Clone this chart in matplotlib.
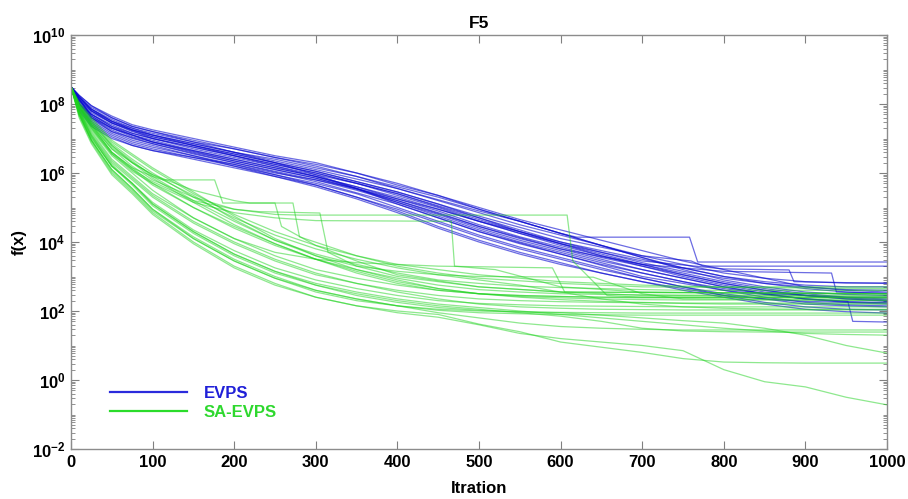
import numpy as np
import matplotlib
matplotlib.use('Agg')
import matplotlib.pyplot as plt
from matplotlib.lines import Line2D
from matplotlib.ticker import FixedLocator, LogLocator, FuncFormatter, NullFormatter

# ---- data (values stored as log10 f(x)) ----
grid_iters = [0, 10, 25, 50, 75, 100, 150, 200, 250, 300, 350, 400,
              450, 500, 550, 600, 650, 700, 750, 800, 850, 900, 950, 1000]

# EVPS runs on the shared iteration grid
evps_runs = [
    [8.5, 8.25, 7.95, 7.6, 7.35, 7.2, 6.95, 6.7, 6.45, 6.2, 5.9, 5.55, 5.2, 4.85, 4.5, 4.2, 3.9, 3.6, 3.35, 3.1, 2.95, 2.85, 2.81, 2.81],
    [8.5, 7.9, 7.45, 7.1, 6.85, 6.7, 6.45, 6.25, 6.0, 5.8, 5.55, 5.25, 4.95, 4.6, 4.3, 4.0, 3.75, 3.5, 3.25, 3.0, 2.85, 2.75, 2.7, 2.7],
    [8.5, 8.05, 7.7, 7.4, 7.15, 7.0, 6.7, 6.45, 6.2, 5.95, 5.7, 5.4, 5.05, 4.7, 4.35, 4.0, 3.7, 3.4, 3.15, 2.95, 2.8, 2.7, 2.62, 2.6],
    [8.5, 8.2, 7.9, 7.6, 7.35, 7.2, 6.9, 6.6, 6.3, 5.95, 5.55, 5.1, 4.7, 4.3, 3.95, 3.65, 3.35, 3.1, 2.85, 2.65, 2.5, 2.45, 2.4, 2.4],
    [8.5, 7.85, 7.4, 7.05, 6.8, 6.65, 6.4, 6.15, 5.9, 5.65, 5.3, 4.95, 4.55, 4.15, 3.8, 3.5, 3.2, 2.95, 2.7, 2.5, 2.35, 2.2, 2.15, 2.12],
    [8.5, 8.1, 7.8, 7.45, 7.2, 7.05, 6.8, 6.55, 6.3, 6.05, 5.75, 5.45, 5.1, 4.7, 4.3, 3.95, 3.6, 3.3, 3.0, 2.75, 2.55, 2.45, 2.38, 2.32],
    [8.5, 8.0, 7.6, 7.25, 7.0, 6.85, 6.55, 6.3, 6.05, 5.8, 5.5, 5.15, 4.8, 4.4, 4.05, 3.75, 3.45, 3.2, 2.95, 2.7, 2.5, 2.35, 2.28, 2.23],
    [8.5, 8.25, 7.95, 7.65, 7.4, 7.25, 7.0, 6.75, 6.5, 6.3, 6.0, 5.7, 5.35, 4.95, 4.6, 4.25, 3.9, 3.55, 3.25, 3.0, 2.8, 2.65, 2.55, 2.5],
    [8.5, 7.8, 7.35, 7.0, 6.8, 6.65, 6.45, 6.2, 5.95, 5.7, 5.4, 5.0, 4.6, 4.2, 3.85, 3.55, 3.25, 2.95, 2.7, 2.45, 2.25, 2.12, 2.05, 2.03],
    [8.5, 8.0, 7.65, 7.3, 7.1, 6.9, 6.65, 6.4, 6.15, 5.9, 5.6, 5.25, 4.9, 4.5, 4.15, 3.85, 3.55, 3.3, 3.05, 2.8, 2.6, 2.45, 2.35, 2.28],
    [8.5, 8.15, 7.8, 7.5, 7.25, 7.1, 6.85, 6.6, 6.4, 6.15, 5.9, 5.6, 5.3, 4.95, 4.6, 4.25, 3.9, 3.55, 3.2, 2.9, 2.7, 2.55, 2.48, 2.45],
    [8.5, 7.95, 7.55, 7.2, 6.95, 6.8, 6.5, 6.25, 5.95, 5.65, 5.3, 4.9, 4.45, 4.05, 3.7, 3.4, 3.1, 2.85, 2.6, 2.4, 2.2, 2.05, 1.98, 1.94],
    [8.5, 8.1, 7.7, 7.35, 7.15, 7.0, 6.75, 6.5, 6.25, 6.0, 5.7, 5.35, 5.0, 4.6, 4.25, 3.9, 3.6, 3.35, 3.1, 2.85, 2.65, 2.5, 2.4, 2.35],
    [8.5, 8.0, 7.6, 7.3, 7.05, 6.9, 6.6, 6.35, 6.1, 5.85, 5.55, 5.2, 4.85, 4.45, 4.1, 3.8, 3.5, 3.2, 2.95, 2.7, 2.5, 2.35, 2.25, 2.2],
    [8.5, 8.15, 7.85, 7.5, 7.25, 7.1, 6.8, 6.5, 6.2, 5.9, 5.55, 5.15, 4.75, 4.35, 4.0, 3.7, 3.4, 3.1, 2.85, 2.6, 2.4, 2.25, 2.18, 2.15],
    [8.5, 8.0, 7.7, 7.35, 7.1, 6.95, 6.65, 6.4, 6.15, 5.9, 5.6, 5.3, 4.95, 4.6, 4.25, 3.95, 3.65, 3.35, 3.05, 2.8, 2.6, 2.45, 2.35, 2.3],
    [8.5, 8.2, 7.85, 7.55, 7.3, 7.15, 6.9, 6.7, 6.45, 6.25, 6.0, 5.65, 5.35, 5.0, 4.65, 4.35, 4.05, 3.75, 3.45, 3.2, 2.95, 2.7, 2.6, 2.55],
    [8.5, 7.9, 7.5, 7.15, 6.9, 6.75, 6.5, 6.2, 5.9, 5.6, 5.25, 4.85, 4.4, 4.0, 3.65, 3.35, 3.1, 2.85, 2.65, 2.45, 2.35, 2.28, 2.25, 2.25],
]

# EVPS runs with long plateaus / sudden drops, as (iteration, log10 f) knots
evps_step_runs = [
    [(0, 8.5), (10, 8.2), (25, 7.85), (50, 7.5), (100, 7.1), (150, 6.85), (200, 6.6), (300, 6.1), (400, 5.55),
     (500, 4.9), (550, 4.6), (600, 4.25), (620, 4.14), (758, 4.14), (768, 3.42), (1000, 3.42)],
    [(0, 8.5), (10, 8.1), (25, 7.75), (50, 7.45), (100, 7.05), (150, 6.8), (200, 6.55), (300, 6.05), (400, 5.45),
     (500, 4.75), (600, 4.1), (700, 3.6), (760, 3.45), (775, 3.3), (1000, 3.3)],
    [(0, 8.5), (25, 7.8), (50, 7.45), (100, 7.0), (200, 6.5), (300, 6.0), (400, 5.4), (500, 4.65), (600, 3.95),
     (700, 3.45), (800, 3.22), (880, 3.19), (886, 2.85), (1000, 2.8)],
    [(0, 8.5), (25, 7.65), (50, 7.3), (100, 6.9), (200, 6.35), (300, 5.85), (400, 5.2), (500, 4.45), (600, 3.8),
     (700, 3.35), (800, 3.15), (932, 3.1), (938, 2.55), (1000, 2.52)],
    [(0, 8.5), (25, 7.6), (50, 7.2), (100, 6.85), (200, 6.3), (300, 5.75), (400, 5.1), (500, 4.3), (600, 3.65),
     (700, 3.0), (800, 2.6), (900, 2.35), (952, 2.28), (958, 1.7), (1000, 1.68)],
]

# SA-EVPS runs on the shared iteration grid
sa_evps_runs = [
    [8.5, 8.0, 7.55, 6.9, 6.5, 6.1, 5.4, 4.8, 4.3, 3.9, 3.6, 3.35, 3.2, 3.05, 2.95, 2.85, 2.8, 2.75, 2.72, 2.7, 2.7, 2.7, 2.7, 2.7],
    [8.5, 7.95, 7.45, 6.8, 6.35, 5.9, 5.2, 4.6, 4.05, 3.65, 3.35, 3.1, 2.9, 2.8, 2.72, 2.68, 2.65, 2.62, 2.6, 2.6, 2.6, 2.6, 2.6, 2.6],
    [8.5, 7.9, 7.35, 6.6, 6.15, 5.7, 5.0, 4.4, 3.9, 3.5, 3.2, 2.95, 2.75, 2.62, 2.55, 2.5, 2.48, 2.47, 2.46, 2.46, 2.46, 2.46, 2.46, 2.46],
    [8.5, 7.8, 7.2, 6.4, 5.9, 5.4, 4.7, 4.1, 3.6, 3.2, 2.95, 2.75, 2.6, 2.5, 2.45, 2.42, 2.4, 2.38, 2.38, 2.38, 2.38, 2.38, 2.38, 2.38],
    [8.5, 7.85, 7.3, 6.55, 6.1, 5.65, 5.0, 4.45, 3.95, 3.5, 3.15, 2.85, 2.65, 2.5, 2.42, 2.38, 2.35, 2.33, 2.32, 2.32, 2.32, 2.32, 2.32, 2.32],
    [8.5, 7.75, 7.1, 6.3, 5.8, 5.3, 4.55, 3.95, 3.45, 3.05, 2.8, 2.6, 2.45, 2.35, 2.3, 2.27, 2.25, 2.24, 2.23, 2.23, 2.23, 2.23, 2.23, 2.23],
    [8.5, 7.7, 7.0, 6.2, 5.7, 5.15, 4.35, 3.75, 3.25, 2.9, 2.65, 2.45, 2.3, 2.22, 2.18, 2.15, 2.14, 2.13, 2.12, 2.12, 2.12, 2.12, 2.12, 2.12],
    [8.5, 7.8, 7.15, 6.35, 5.85, 5.35, 4.6, 4.0, 3.5, 3.1, 2.8, 2.55, 2.35, 2.2, 2.12, 2.08, 2.05, 2.04, 2.03, 2.03, 2.03, 2.03, 2.03, 2.03],
    [8.5, 7.75, 7.05, 6.2, 5.7, 5.1, 4.3, 3.65, 3.15, 2.75, 2.45, 2.25, 2.1, 2.02, 1.98, 1.96, 1.95, 1.94, 1.94, 1.94, 1.94, 1.94, 1.94, 1.94],
    [8.5, 7.7, 6.95, 6.1, 5.55, 4.95, 4.15, 3.5, 3.0, 2.6, 2.35, 2.15, 2.02, 1.95, 1.92, 1.9, 1.89, 1.88, 1.88, 1.88, 1.88, 1.88, 1.88, 1.88],
    [8.5, 8.05, 7.6, 6.95, 6.55, 6.15, 5.45, 4.75, 4.1, 3.6, 3.2, 2.9, 2.65, 2.5, 2.4, 2.33, 2.28, 2.25, 2.22, 2.2, 2.2, 2.2, 2.2, 2.2],
    [8.5, 7.9, 7.4, 6.7, 6.3, 5.85, 5.15, 4.5, 3.95, 3.5, 3.1, 2.8, 2.6, 2.5, 2.45, 2.42, 2.4, 2.4, 2.4, 2.4, 2.4, 2.4, 2.4, 2.4],
    [8.5, 7.95, 7.5, 6.85, 6.4, 6.0, 5.3, 4.7, 4.2, 3.8, 3.5, 3.25, 3.05, 2.9, 2.75, 2.55, 2.35, 2.2, 2.12, 2.08, 2.06, 2.05, 2.05, 2.05],
    [8.5, 7.7, 6.95, 6.05, 5.5, 4.9, 4.1, 3.45, 2.95, 2.6, 2.35, 2.15, 1.95, 1.8, 1.65, 1.55, 1.5, 1.47, 1.45, 1.45, 1.45, 1.45, 1.45, 1.45],
    [8.5, 7.75, 7.05, 6.2, 5.65, 5.05, 4.25, 3.6, 3.1, 2.75, 2.5, 2.3, 2.15, 2.05, 1.95, 1.85, 1.7, 1.5, 1.42, 1.4, 1.39, 1.39, 1.39, 1.39],
    [8.5, 7.8, 7.1, 6.25, 5.7, 5.1, 4.3, 3.65, 3.15, 2.8, 2.55, 2.35, 2.2, 2.1, 2.0, 1.9, 1.8, 1.7, 1.6, 1.5, 1.42, 1.35, 1.32, 1.3],
    [8.5, 7.7, 6.95, 6.1, 5.55, 4.95, 4.1, 3.45, 2.95, 2.55, 2.3, 2.15, 2.05, 2.0, 1.97, 1.95, 1.88, 1.8, 1.72, 1.65, 1.5, 1.3, 1.0, 0.78],
    [8.5, 7.65, 6.9, 6.0, 5.45, 4.85, 4.0, 3.3, 2.8, 2.4, 2.15, 2.0, 1.9, 1.62, 1.4, 1.1, 0.95, 0.8, 0.62, 0.52, 0.5, 0.49, 0.49, 0.49],
    [8.5, 7.6, 6.85, 5.95, 5.4, 4.8, 3.95, 3.25, 2.75, 2.4, 2.15, 1.95, 1.82, 1.6, 1.35, 1.2, 1.1, 1.0, 0.85, 0.3, -0.05, -0.2, -0.5, -0.72],
]

# SA-EVPS runs with long plateaus / sudden drops, as (iteration, log10 f) knots
sa_evps_step_runs = [
    [(0, 8.5), (10, 7.95), (25, 7.4), (50, 6.6), (75, 6.15), (100, 5.9), (113, 5.8), (176, 5.8), (186, 5.13),
     (250, 5.13), (258, 4.45), (300, 3.9), (350, 3.45), (400, 3.05), (500, 2.7), (600, 2.55), (1000, 2.5)],
    [(0, 8.5), (10, 8.0), (25, 7.5), (50, 6.8), (75, 6.3), (100, 5.95), (150, 5.5), (200, 5.2), (219, 5.13),
     (272, 5.13), (280, 4.15), (350, 3.6), (400, 3.3), (450, 3.1), (500, 2.95), (600, 2.8), (700, 2.7), (1000, 2.65)],
    [(0, 8.5), (10, 7.9), (25, 7.4), (50, 6.7), (75, 6.2), (100, 5.8), (150, 5.3), (200, 4.95), (250, 4.8),
     (280, 4.78), (608, 4.78), (615, 3.45), (657, 2.45), (700, 2.4), (1000, 2.38)],
    [(0, 8.5), (10, 7.85), (25, 7.3), (50, 6.55), (75, 6.05), (100, 5.7), (150, 5.15), (200, 4.85), (250, 4.7),
     (300, 4.62), (466, 4.6), (470, 3.3), (520, 3.2), (560, 2.95), (600, 2.7), (700, 2.55), (1000, 2.5)],
    [(0, 8.5), (10, 7.9), (25, 7.35), (50, 6.6), (75, 6.1), (100, 5.75), (150, 5.2), (200, 4.95), (230, 4.88),
     (305, 4.84), (315, 3.7), (350, 3.3), (400, 3.0), (500, 2.7), (600, 2.55), (1000, 2.5)],
    [(0, 8.5), (10, 7.8), (25, 7.25), (50, 6.5), (75, 6.0), (100, 5.5), (150, 4.7), (200, 4.1), (250, 3.7),
     (300, 3.5), (350, 3.4), (400, 3.35), (450, 3.3), (590, 3.25), (605, 2.55), (700, 2.45), (1000, 2.42)],
    [(0, 8.5), (10, 7.95), (25, 7.45), (50, 6.75), (75, 6.3), (100, 5.95), (150, 5.35), (200, 4.65), (250, 4.05),
     (300, 3.6), (350, 3.3), (400, 3.15), (450, 3.05), (500, 3.0), (640, 2.98), (700, 2.5), (750, 2.35), (1000, 2.3)],
]

labels = ['EVPS', 'SA-EVPS']
xticks = [0, 100, 200, 300, 400, 500, 600, 700, 800, 900, 1000]
yticks_exp = [-2, 0, 2, 4, 6, 8, 10]

# ---- styling ----
plt.rcParams['font.family'] = ['Liberation Sans', 'DejaVu Sans']
plt.rcParams['mathtext.fontset'] = 'custom'
plt.rcParams['mathtext.rm'] = 'Liberation Sans:bold'
plt.rcParams['mathtext.bf'] = 'Liberation Sans:bold'

blue = '#0a0ad0'
green = '#1ed21e'

fig = plt.figure(figsize=(9.08, 4.99), dpi=100)
ax = fig.add_axes([71 / 908, 50 / 499, 816 / 908, 414 / 499])


def plot_grid_runs(runs, color, alpha):
    for r in runs:
        ax.plot(grid_iters, np.power(10.0, r), color=color, alpha=alpha, linewidth=0.9)


def plot_step_runs(runs, color, alpha):
    for r in runs:
        it, lv = zip(*r)
        ax.plot(it, np.power(10.0, lv), color=color, alpha=alpha, linewidth=0.9)


plot_grid_runs(evps_runs, blue, 0.6)
plot_step_runs(evps_step_runs, blue, 0.6)
plot_grid_runs(sa_evps_runs, green, 0.5)
plot_step_runs(sa_evps_step_runs, green, 0.5)

ax.set_yscale('log')
ax.set_xlim(0, 1000)
ax.set_ylim(1e-2, 1e10)

ax.xaxis.set_major_locator(FixedLocator(xticks))
ax.yaxis.set_major_locator(FixedLocator([10.0 ** e for e in yticks_exp]))
ax.yaxis.set_major_formatter(FuncFormatter(lambda v, p: r'$\mathbf{10^{%d}}$' % round(np.log10(v))))
ax.yaxis.set_minor_locator(LogLocator(base=10, subs=np.arange(1, 10), numticks=100))
ax.yaxis.set_minor_formatter(NullFormatter())

ax.tick_params(which='both', direction='in', top=True, right=True, color='#808080')
ax.tick_params(which='major', length=6, width=0.8, labelsize=12, pad=4)
ax.tick_params(which='minor', length=3, width=0.6)
for lab in ax.get_xticklabels():
    lab.set_fontweight('bold')
for sp in ax.spines.values():
    sp.set_color('#8c8c8c')
    sp.set_linewidth(1.0)

ax.set_title('F5', fontsize=12.5, fontweight='bold', pad=5)
ax.set_xlabel('Itration', fontsize=12, fontweight='bold', labelpad=8)
ax.set_ylabel('f(x)', fontsize=12, fontweight='bold', labelpad=4)

handles = [Line2D([], [], color='#2b2bdc', linewidth=1.6),
           Line2D([], [], color='#2bdc2b', linewidth=1.6)]
leg = ax.legend(handles, labels, loc='lower left', bbox_to_anchor=(0.03, 0.035),
                frameon=False, handlelength=4.6, handletextpad=1.0, labelspacing=0.2,
                prop={'weight': 'bold', 'size': 12},
                labelcolor=['#2020d8', '#2ed82e'])

fig.savefig('out.png', dpi=100)
